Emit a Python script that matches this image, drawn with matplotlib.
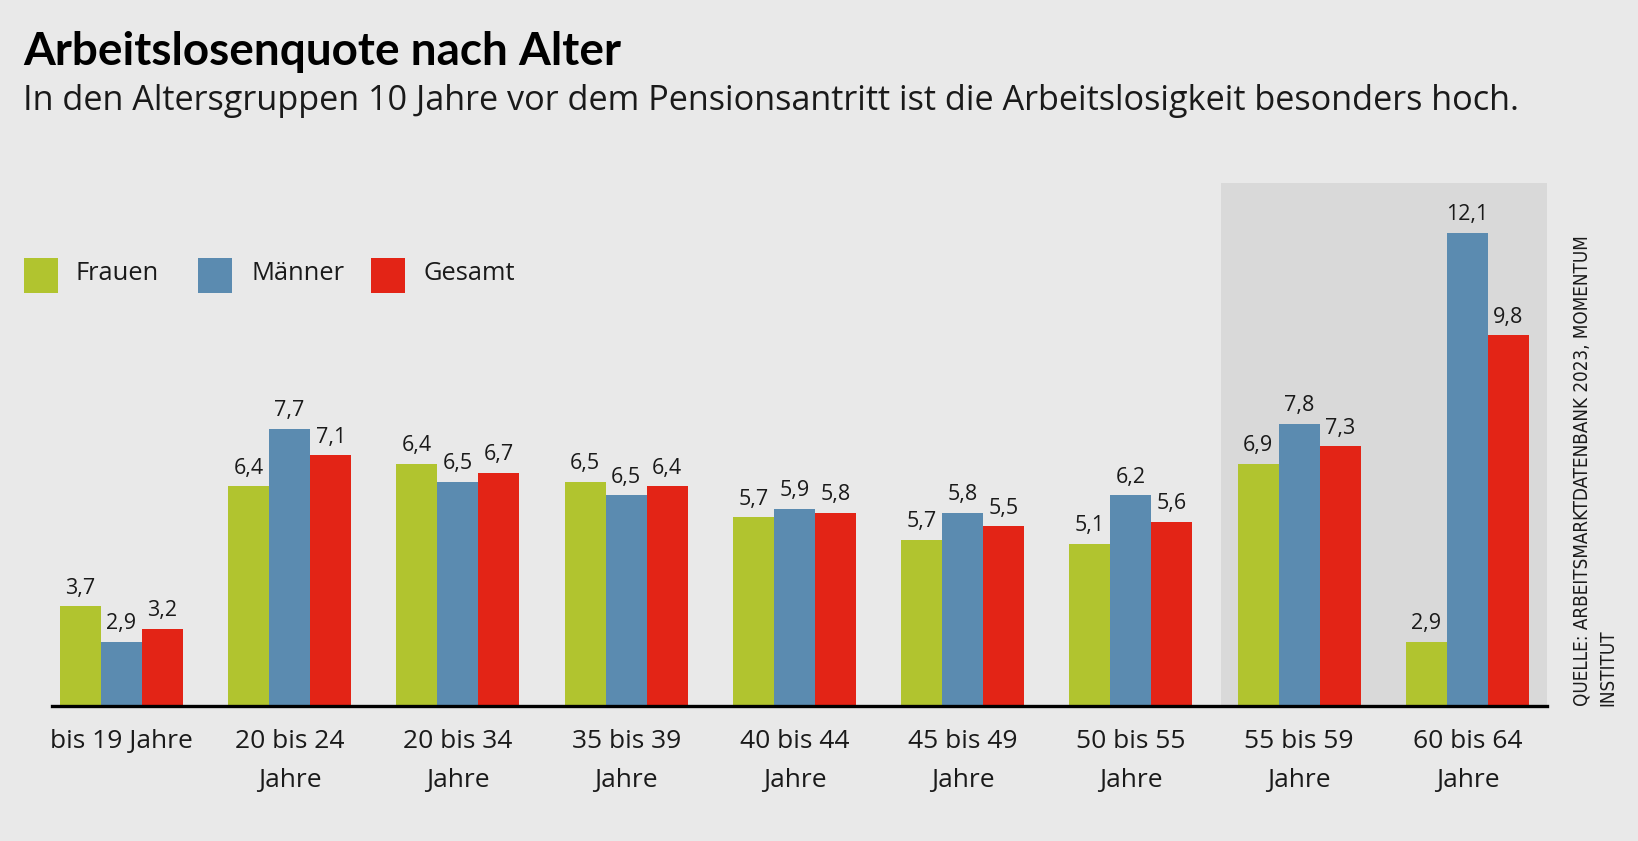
import matplotlib
matplotlib.use("Agg")
import matplotlib.pyplot as plt
from matplotlib.patches import Rectangle
import numpy as np

# ---------------- data ----------------
categories = ["bis 19 Jahre", "20 bis 24\nJahre", "20 bis 34\nJahre", "35 bis 39\nJahre",
              "40 bis 44\nJahre", "45 bis 49\nJahre", "50 bis 55\nJahre", "55 bis 59\nJahre",
              "60 bis 64\nJahre"]
series_names = ["Frauen", "Männer", "Gesamt"]
# bar heights as drawn in the picture
frauen = [3.7, 6.4, 6.9, 6.5, 5.7, 5.2, 5.1, 6.9, 2.9]
maenner = [2.9, 7.7, 6.5, 6.2, 5.9, 5.8, 6.2, 7.8, 12.1]
gesamt = [3.2, 7.1, 6.7, 6.4, 5.8, 5.5, 5.6, 7.3, 9.8]
# value labels as printed in the picture
frauen_labels = ["3,7", "6,4", "6,4", "6,5", "5,7", "5,7", "5,1", "6,9", "2,9"]
maenner_labels = ["2,9", "7,7", "6,5", "6,5", "5,9", "5,8", "6,2", "7,8", "12,1"]
gesamt_labels = ["3,2", "7,1", "6,7", "6,4", "5,8", "5,5", "5,6", "7,3", "9,8"]
highlight_from = 7  # first highlighted category index

title = "Arbeitslosenquote nach Alter"
subtitle = "In den Altersgruppen 10 Jahre vor dem Pensionsantritt ist die Arbeitslosigkeit besonders hoch."
source = "QUELLE: ARBEITSMARKTDATENBANK 2023, MOMENTUM\nINSTITUT"

# ---------------- style ----------------
BG = "#e9e9e9"
SHADE = "#d9d9d9"
COLORS = ["#b1c42f", "#5b8bb0", "#e32416"]
TEXT = "#1a1a1a"
FONT = ["Open Sans", "DejaVu Sans"]
plt.rcParams["font.family"] = FONT

W, H, DPI = 1638, 841, 100
fig = plt.figure(figsize=(W / DPI, H / DPI), dpi=DPI, facecolor=BG)


def fx(px):
    return px / W


def fy(py):
    return 1 - py / H


AX_L, AX_R, AX_T, AX_B = 52, 1547, 183, 706
ax = fig.add_axes([fx(AX_L), fy(AX_B), (AX_R - AX_L) / W, (AX_B - AX_T) / H])
ax.set_facecolor("none")

slot = 168.26
c0 = 121.4
xlim = ((AX_L - c0) / slot, (AX_R - c0) / slot)
ymin = 1.46
ax.set_xlim(*xlim)
ax.set_ylim(ymin, ymin + (AX_B - AX_T) / 44.46)

bw = 41.0 / slot
x = np.arange(len(categories))

ax.axvspan(highlight_from - 0.465, xlim[1], color=SHADE, lw=0, zorder=0)

all_vals = [frauen, maenner, gesamt]
all_labs = [frauen_labels, maenner_labels, gesamt_labels]
for k in range(3):
    xs = x + (k - 1) * bw
    ax.bar(xs, all_vals[k], width=bw, color=COLORS[k], lw=0, zorder=2)
    for xi, v, lab in zip(xs, all_vals[k], all_labs[k]):
        ax.annotate(lab, (xi, v), xytext=(0, 12.7 * 72 / DPI), textcoords="offset points",
                    ha="center", va="baseline", fontsize=15.5, color=TEXT, zorder=3)

for s in ["top", "left", "right"]:
    ax.spines[s].set_visible(False)
ax.spines["bottom"].set_linewidth(2.4)
ax.spines["bottom"].set_color("black")
ax.spines["bottom"].set_zorder(4)
ax.set_xticks([])
ax.set_yticks([])

# category labels (two lines)
tr = ax.get_xaxis_transform()
for xi, cat in zip(x, categories):
    for j, line in enumerate(cat.split("\n")):
        ybase = 748 + 39 * j
        ax.text(xi, (AX_B - ybase) / (AX_B - AX_T), line, transform=tr, ha="center",
                va="baseline", fontsize=19, color=TEXT, clip_on=False)

# legend
leg_sq_x = [24, 198, 371]
leg_tx_x = [75.7, 251.7, 423.3]
for k, name in enumerate(series_names):
    fig.add_artist(Rectangle((fx(leg_sq_x[k]), fy(293)), 34 / W, 35 / H,
                             transform=fig.transFigure, color=COLORS[k], lw=0))
    fig.text(fx(leg_tx_x[k]), fy(280), name, fontsize=18.4, color=TEXT, va="baseline", ha="left")

# titles
fig.text(fx(23), fy(65), title, fontsize=33, fontweight="bold", family=["Lato", "DejaVu Sans"],
         color="black", va="baseline")
fig.text(fx(23), fy(110), subtitle, fontsize=24.7, color=TEXT, va="baseline")

# source
fig.text(fx(1573), fy(706), source, rotation=90, ha="left", va="bottom", fontsize=13.5,
         family=["DejaVu Sans"], fontstretch="condensed", color=TEXT, linespacing=1.45)

fig.savefig("out.png", dpi=DPI, facecolor=BG)
